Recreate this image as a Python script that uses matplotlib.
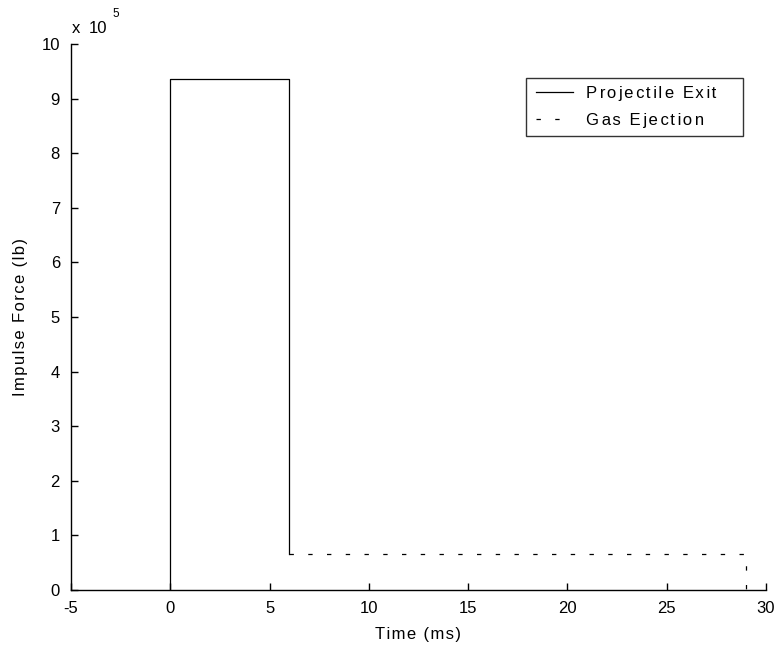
import matplotlib
matplotlib.use("Agg")
import matplotlib.pyplot as plt
from matplotlib.legend_handler import HandlerLine2D

plt.rcParams['font.family'] = ['Liberation Sans', 'DejaVu Sans']

# Data (force in units of 1e5 lb, time in ms)
proj_t = [0, 0, 6, 6]
proj_f = [0, 9.36, 9.36, 0.66]
gas_t = [6, 29, 29]
gas_f = [0.66, 0.66, 0]
xticks = [-5, 0, 5, 10, 15, 20, 25, 30]
yticks = [0, 1, 2, 3, 4, 5, 6, 7, 8, 9, 10]
W, H = 776, 648


def sp(s):
    return '\u200a'.join(s)


def sp2(s):
    out = s[0]
    for i, ch in enumerate(s[1:]):
        out += ('\u200a\u200a' if i % 2 == 0 else '\u200a') + ch
    return out


FS = 12
fig = plt.figure(figsize=(W / 100, H / 100), dpi=100)
ax = fig.add_axes([0.0915, 0.0895, 0.8955, 0.8425])

l1, = ax.plot(proj_t, proj_f, color='black', lw=0.9,
              label=sp2('Projectile Exit') + '   \u200a\u200a\u200a')
l2, = ax.plot(gas_t, gas_f, color='black', lw=0.9, dashes=(3.5, 11.5),
              label=sp2('Gas Ejection'))

ax.set_xlim(-5, 30)
ax.set_ylim(0, 10)
ax.set_xticks(xticks)
ax.set_yticks(yticks)
ax.set_xticklabels([str(v) for v in xticks])
ax.set_yticklabels([str(v) for v in yticks])
ax.spines['top'].set_visible(False)
ax.spines['right'].set_visible(False)
for s in ['left', 'bottom']:
    ax.spines[s].set_linewidth(1.0)
ax.tick_params(direction='in', length=5, width=1.0, labelsize=FS, pad=8)

ax.set_xlabel(sp('Time (ms)'), fontsize=FS, labelpad=8)
ax.set_ylabel(sp('Impulse Force (lb)'), fontsize=FS, labelpad=10)

# exponent label "x 10^5"
fig.text(72 / W, 1 - 33 / H, 'x', fontsize=FS, ha='left', va='baseline')
fig.text(89 / W, 1 - 33 / H, '10', fontsize=FS, ha='left', va='baseline')
fig.text(112 / W, 1 - 17 / H, '5', fontsize=8.5, ha='left', va='baseline')

hmap = {l1: HandlerLine2D(xpad=0.15), l2: HandlerLine2D(xpad=0.15)}
leg = ax.legend(handler_map=hmap, loc='upper right', bbox_to_anchor=(0.967, 0.938),
                frameon=True, fancybox=False, edgecolor='black', fontsize=FS,
                handlelength=2.35, handletextpad=0.8, borderpad=0.5,
                labelspacing=0.7, borderaxespad=0)
leg.get_frame().set_linewidth(1.0)

fig.savefig('out.png', dpi=100)
